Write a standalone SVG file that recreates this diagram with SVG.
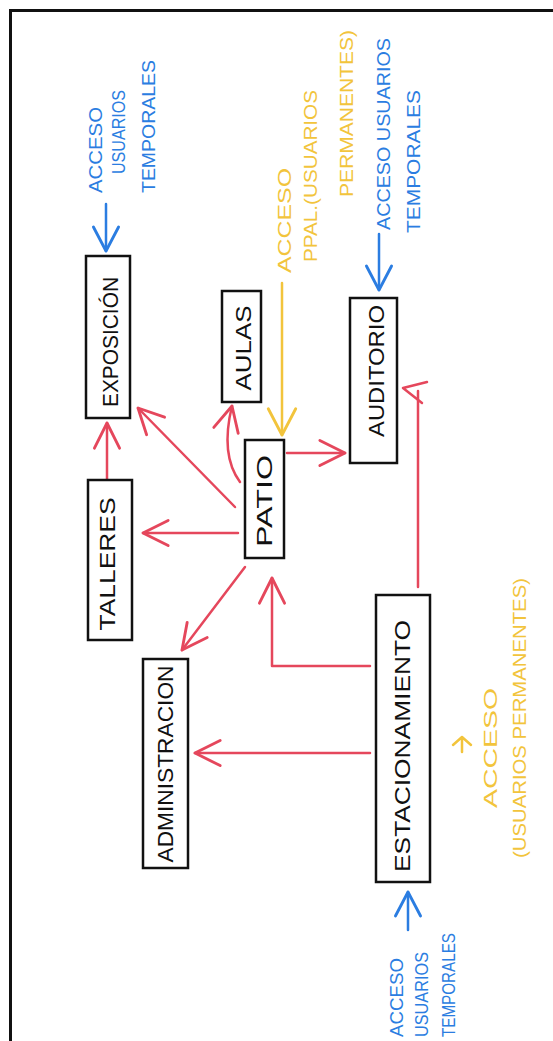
<svg xmlns="http://www.w3.org/2000/svg" width="553" height="1041" viewBox="0 0 553 1041">
<style>
.box{fill:#fff;stroke:#111;stroke-width:2.5}
.lbl{font-family:"Liberation Sans",Arial,sans-serif;font-size:22px;fill:#111;text-anchor:middle}
.note{font-family:"Liberation Sans",Arial,sans-serif;font-size:19px}
.blue{fill:#2b7de1}
.yel{fill:#f2c43c}
.r{fill:none;stroke:#e5475c;stroke-width:2.5;stroke-linecap:round;stroke-linejoin:round}
.b{fill:none;stroke:#2b7de1;stroke-width:2.5;stroke-linecap:round;stroke-linejoin:round}
.y{fill:none;stroke:#f2c43c;stroke-width:2.5;stroke-linecap:round;stroke-linejoin:round}
</style>
<defs>
<marker id="mr" markerUnits="userSpaceOnUse" orient="auto" refX="0" refY="0" markerWidth="40" markerHeight="40" viewBox="-30 -15 35 30" overflow="visible">
<path d="M -22 -11 L 0 0 L -22 11" fill="none" stroke="#e5475c" stroke-width="2.5" stroke-linecap="round" stroke-linejoin="round"/>
</marker>
<marker id="mb" markerUnits="userSpaceOnUse" orient="auto" refX="0" refY="0" markerWidth="40" markerHeight="40" viewBox="-30 -15 35 30" overflow="visible">
<path d="M -21 -11 L 0 0 L -21 11" fill="none" stroke="#2b7de1" stroke-width="2.5" stroke-linecap="round" stroke-linejoin="round"/>
</marker>
<marker id="my" markerUnits="userSpaceOnUse" orient="auto" refX="0" refY="0" markerWidth="40" markerHeight="40" viewBox="-30 -15 35 30" overflow="visible">
<path d="M -23 -12 L 0 0 L -23 12" fill="none" stroke="#f2c43c" stroke-width="2.5" stroke-linecap="round" stroke-linejoin="round"/>
</marker>
</defs>
<rect width="553" height="1041" fill="#fff"/>
<path d="M 10.5 1041 L 10.5 10.5 L 553 10.5" fill="none" stroke="#111" stroke-width="3"/>

<g id="connectors">
<path class="r" d="M 107 480 L 107 423" marker-end="url(#mr)"/>
<path class="r" d="M 235 507 L 138 408" marker-end="url(#mr)"/>
<path class="r" d="M 240 482 Q 220 455 232 406" marker-end="url(#mr)"/>
<path class="r" d="M 287 453 L 345 453" marker-end="url(#mr)"/>
<path class="r" d="M 238 533 L 143 533" marker-end="url(#mr)"/>
<path class="r" d="M 245 567 L 182 650" marker-end="url(#mr)"/>
<path class="r" d="M 370 666 L 272 666 L 272 578" marker-end="url(#mr)"/>
<path class="r" d="M 370 753 L 195 753" marker-end="url(#mr)"/>
<path class="r" d="M 418 587 L 418 391"/>
<path class="r" d="M 427 382 L 403 388 L 422 403"/>
<path class="b" d="M 106 204 L 106 251" marker-end="url(#mb)"/>
<path class="b" d="M 379 234 L 379 290" marker-end="url(#mb)"/>
<path class="b" d="M 408 930 L 408 892" marker-end="url(#mb)"/>
<path class="y" d="M 282 283 L 282 435" marker-end="url(#my)"/>
<path class="y" d="M 462 752 L 462 737 M 453 745 L 462 737 L 471 745"/>
</g>

<g id="node-exposicion">
<rect class="box" x="86" y="256" width="44" height="162"/>
<text class="lbl" transform="translate(118,342) rotate(-90)" textLength="130" lengthAdjust="spacingAndGlyphs">EXPOSICIÓN</text>
</g>
<g id="node-aulas">
<rect class="box" x="222" y="291" width="39" height="111"/>
<text class="lbl" transform="translate(251,348) rotate(-90)" textLength="85" lengthAdjust="spacingAndGlyphs">AULAS</text>
</g>
<g id="node-auditorio">
<rect class="box" x="350" y="298" width="47" height="165"/>
<text class="lbl" transform="translate(384,371) rotate(-90)" textLength="132" lengthAdjust="spacingAndGlyphs">AUDITORIO</text>
</g>
<g id="node-patio">
<rect class="box" x="245" y="440" width="39" height="118"/>
<text class="lbl" transform="translate(272,501) rotate(-90)" textLength="92" lengthAdjust="spacingAndGlyphs">PATIO</text>
</g>
<g id="node-talleres">
<rect class="box" x="88" y="480" width="44" height="160"/>
<text class="lbl" transform="translate(115,564) rotate(-90)" textLength="133" lengthAdjust="spacingAndGlyphs">TALLERES</text>
</g>
<g id="node-administracion">
<rect class="box" x="143" y="659" width="45" height="209"/>
<text class="lbl" transform="translate(173,764) rotate(-90)" textLength="197" lengthAdjust="spacingAndGlyphs">ADMINISTRACION</text>
</g>
<g id="node-estacionamiento">
<rect class="box" x="376" y="595" width="54" height="287"/>
<text class="lbl" transform="translate(410,746) rotate(-90)" textLength="252" lengthAdjust="spacingAndGlyphs">ESTACIONAMIENTO</text>
</g>

<g id="notes">
<text class="note blue" transform="translate(102,193) rotate(-90)" textLength="86" lengthAdjust="spacingAndGlyphs">ACCESO</text>
<text class="note blue" transform="translate(125,174) rotate(-90)" textLength="84" lengthAdjust="spacingAndGlyphs">USUARIOS</text>
<text class="note blue" transform="translate(155,193) rotate(-90)" textLength="133" lengthAdjust="spacingAndGlyphs">TEMPORALES</text>

<text class="note yel" transform="translate(291,273) rotate(-90)" textLength="105" lengthAdjust="spacingAndGlyphs">ACCESO</text>
<text class="note yel" transform="translate(317,262) rotate(-90)" textLength="172" lengthAdjust="spacingAndGlyphs">PPAL.(USUARIOS</text>
<text class="note yel" transform="translate(353,197) rotate(-90)" textLength="167" lengthAdjust="spacingAndGlyphs">PERMANENTES)</text>

<text class="note blue" transform="translate(390,230) rotate(-90)" textLength="192" lengthAdjust="spacingAndGlyphs">ACCESO USUARIOS</text>
<text class="note blue" transform="translate(420,233) rotate(-90)" textLength="143" lengthAdjust="spacingAndGlyphs">TEMPORALES</text>

<text class="note yel" transform="translate(497,808) rotate(-90)" textLength="120" lengthAdjust="spacingAndGlyphs">ACCESO</text>
<text class="note yel" transform="translate(526,858) rotate(-90)" textLength="280" lengthAdjust="spacingAndGlyphs">(USUARIOS PERMANENTES)</text>

<text class="note blue" transform="translate(403,1037) rotate(-90)" textLength="79" lengthAdjust="spacingAndGlyphs">ACCESO</text>
<text class="note blue" transform="translate(428,1037) rotate(-90)" textLength="85" lengthAdjust="spacingAndGlyphs">USUARIOS</text>
<text class="note blue" transform="translate(455,1037) rotate(-90)" textLength="104" lengthAdjust="spacingAndGlyphs">TEMPORALES</text>
</g>
</svg>
